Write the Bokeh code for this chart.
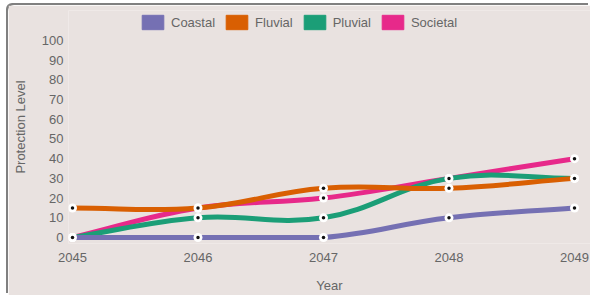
import math
from bokeh.plotting import figure
from bokeh.models import Range1d, FixedTicker, Legend, LegendItem
from bokeh.embed import file_html
from bokeh.resources import INLINE

# ---- data ----
years = [2045, 2046, 2047, 2048, 2049]
coastal = [0, 0, 0, 10, 15]
fluvial = [15, 15, 25, 25, 30]
pluvial = [0, 10, 10, 30, 30]
societal = [0, 15, 20, 30, 40]
series_names = ["Coastal", "Fluvial", "Pluvial", "Societal"]
series_values = [coastal, fluvial, pluvial, societal]
colors = ["#7570b3", "#d95f02", "#1b9e77", "#e7298a"]
y_ticks = list(range(0, 101, 10))

# ---- style ----
BG = "#e9e2e0"
TXT = "#666666"
FONT = "Liberation Sans"
SX, SY = 125.5, 1.98   # pixel per unit (used for spline tension)
TENSION = 0.4
XMIN, XMAX, YMIN, YMAX = years[0], years[-1], 0, 100

p = figure(width=582, height=290, output_backend="svg", toolbar_location=None,
           x_range=Range1d(2045 - 4 / SX, 2049 + 16 / SX),
           y_range=Range1d(-6 / SY, 100 + 30 / SY),
           min_border_left=60, min_border_right=0, min_border_top=5, min_border_bottom=51)
p.margin = (5, 0, 0, 8)
p.styles = {"box-shadow": "-2px -2px 0 0 #808080", "border-top-left-radius": "6px"}
p.background_fill_color = BG
p.border_fill_color = BG
p.outline_line_color = None
p.grid.visible = False

for ax in (p.xaxis[0], p.yaxis[0]):
    ax.axis_line_color = None
    ax.major_tick_line_color = None
    ax.minor_tick_line_color = None
    ax.major_tick_out = 0
    ax.major_tick_in = 0
    ax.major_label_text_font = FONT
    ax.major_label_text_font_size = "13px"
    ax.major_label_text_color = TXT
    ax.axis_label_text_font = FONT
    ax.axis_label_text_font_size = "13px"
    ax.axis_label_text_color = TXT
    ax.axis_label_text_font_style = "normal"

p.xaxis.ticker = FixedTicker(ticks=years)
p.yaxis.ticker = FixedTicker(ticks=y_ticks)
p.xaxis.axis_label = "Year"
p.yaxis.axis_label = "Protection Level"
p.xaxis.major_label_standoff = 9
p.xaxis.axis_label_standoff = 13
p.yaxis.major_label_standoff = 5
p.yaxis.axis_label_standoff = 11


def spline_controls(xs, ys):
    n = len(xs)
    prev_cp, next_cp = [], []
    for i in range(n):
        ip = i - 1 if i > 0 else i
        inx = i + 1 if i < n - 1 else i
        d01 = math.hypot((xs[i] - xs[ip]) * SX, (ys[i] - ys[ip]) * SY)
        d12 = math.hypot((xs[inx] - xs[i]) * SX, (ys[inx] - ys[i]) * SY)
        tot = d01 + d12
        s01 = d01 / tot if tot else 0
        s12 = d12 / tot if tot else 0
        fa, fb = TENSION * s01, TENSION * s12
        dx, dy = xs[inx] - xs[ip], ys[inx] - ys[ip]
        pc = (xs[i] - fa * dx, ys[i] - fa * dy)
        nc = (xs[i] + fb * dx, ys[i] + fb * dy)
        clamp = lambda c: (min(max(c[0], XMIN), XMAX), min(max(c[1], YMIN), YMAX))
        prev_cp.append(clamp(pc))
        next_cp.append(clamp(nc))
    return prev_cp, next_cp


# legend swatches: zero-size quads at the data points (invisible in the plot)
items = []
for name, vals, c in zip(series_names, series_values, colors):
    r = p.quad(left=years, right=years, top=vals, bottom=vals,
               fill_color=c, line_color=c, line_width=1)
    items.append(LegendItem(label=name, renderers=[r]))

# draw datasets in reverse order (last dataset at the bottom)
for name, vals, c in reversed(list(zip(series_names, series_values, colors))):
    pc, nc = spline_controls(years, vals)
    p.bezier(x0=years[:-1], y0=vals[:-1], x1=years[1:], y1=vals[1:],
             cx0=[q[0] for q in nc[:-1]], cy0=[q[1] for q in nc[:-1]],
             cx1=[q[0] for q in pc[1:]], cy1=[q[1] for q in pc[1:]],
             line_color=c, line_width=5)
    p.scatter(years, vals, size=9, fill_color="white", line_color=None)
    p.scatter(years, vals, size=3.5, fill_color="#111111", line_color=None)

legend = Legend(items=items, orientation="horizontal", location=(71, 212),
                glyph_width=27, glyph_height=18, label_height=18, label_standoff=5,
                spacing=8, padding=0, margin=0,
                label_text_font=FONT, label_text_font_size="13px", label_text_color=TXT,
                background_fill_alpha=0, border_line_alpha=0)
p.add_layout(legend, "center")

open("out.html", "w").write(file_html(p, INLINE))
